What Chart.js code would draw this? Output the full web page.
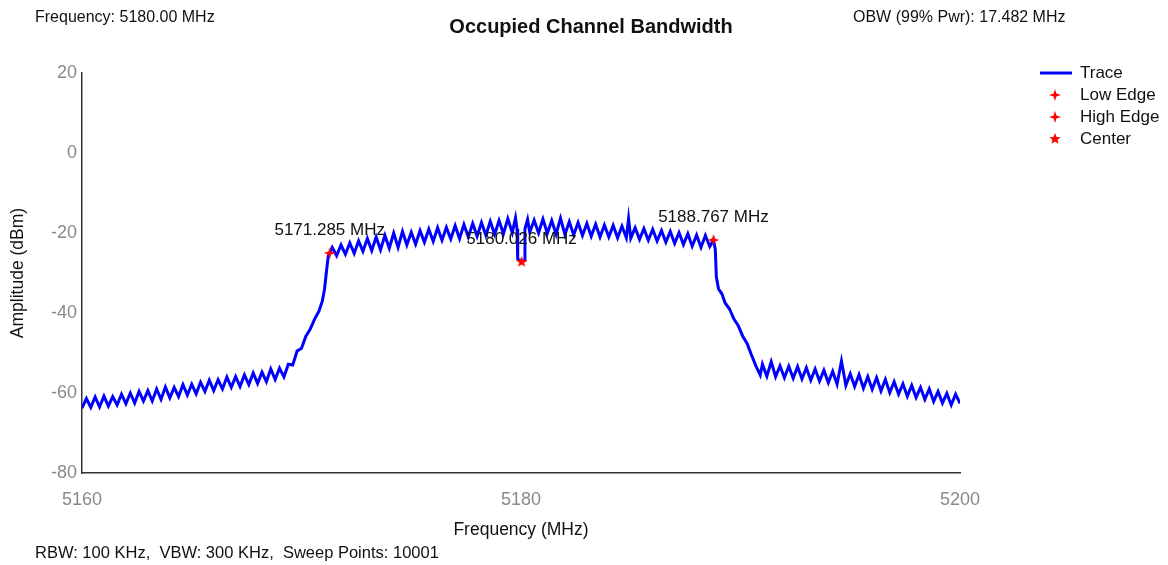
<!DOCTYPE html>
<html>
<head>
<meta charset="utf-8">
<script src="https://cdn.jsdelivr.net/npm/chart.js@4.4.1/dist/chart.umd.min.js"></script>
<style>
  body { margin: 0; background: #fff; }
  canvas { display: block; }
</style>
</head>
<body>
<canvas id="obw" width="1168" height="565"></canvas>
<script>
// spectrum trace, MHz / dBm
const traceFreq = [
  5160.0, 5160.2, 5160.4, 5160.6, 5160.8, 5161.0, 5161.2, 5161.4, 5161.6, 5161.8,
  5162.0, 5162.2, 5162.4, 5162.6, 5162.8, 5163.0, 5163.2, 5163.4, 5163.6, 5163.8,
  5164.0, 5164.2, 5164.4, 5164.6, 5164.8, 5165.0, 5165.2, 5165.4, 5165.6, 5165.8,
  5166.0, 5166.2, 5166.4, 5166.6, 5166.8, 5167.0, 5167.2, 5167.4, 5167.6, 5167.8,
  5168.0, 5168.2, 5168.4, 5168.6, 5168.8, 5169.0, 5169.2, 5169.4, 5169.6, 5169.8,
  5170.0, 5170.2, 5170.4, 5170.6, 5170.8, 5170.95, 5171.05, 5171.15, 5171.22, 5171.285,
  5171.4, 5171.6, 5171.8, 5172.0, 5172.2, 5172.4, 5172.6, 5172.8, 5173.0, 5173.2,
  5173.4, 5173.6, 5173.8, 5174.0, 5174.2, 5174.4, 5174.6, 5174.8, 5175.0, 5175.2,
  5175.4, 5175.6, 5175.8, 5176.0, 5176.2, 5176.4, 5176.6, 5176.8, 5177.0, 5177.2,
  5177.4, 5177.6, 5177.8, 5178.0, 5178.2, 5178.4, 5178.6, 5178.8, 5179.0, 5179.2,
  5179.4, 5179.6, 5179.75, 5179.82, 5179.85, 5180.026, 5180.15, 5180.18, 5180.3, 5180.4,
  5180.6, 5180.8, 5181.0, 5181.2, 5181.4, 5181.6, 5181.8, 5182.0, 5182.2, 5182.4,
  5182.6, 5182.8, 5183.0, 5183.2, 5183.4, 5183.6, 5183.8, 5184.0, 5184.2, 5184.4,
  5184.6, 5184.8, 5184.9, 5185.0, 5185.2, 5185.4, 5185.6, 5185.8, 5186.0, 5186.2,
  5186.4, 5186.6, 5186.8, 5187.0, 5187.2, 5187.4, 5187.6, 5187.8, 5188.0, 5188.2,
  5188.4, 5188.6, 5188.767, 5188.85, 5188.9, 5189.0, 5189.15, 5189.3, 5189.5, 5189.7,
  5189.9, 5190.1, 5190.3, 5190.5, 5190.7, 5190.9, 5191.0, 5191.2, 5191.4, 5191.6,
  5191.8, 5192.0, 5192.2, 5192.4, 5192.6, 5192.8, 5193.0, 5193.2, 5193.4, 5193.6,
  5193.8, 5194.0, 5194.2, 5194.4, 5194.6, 5194.8, 5195.0, 5195.2, 5195.4, 5195.6,
  5195.8, 5196.0, 5196.2, 5196.4, 5196.6, 5196.8, 5197.0, 5197.2, 5197.4, 5197.6,
  5197.8, 5198.0, 5198.2, 5198.4, 5198.6, 5198.8, 5199.0, 5199.2, 5199.4, 5199.6,
  5199.8, 5200.0
];
const traceAmp = [
  -63.8, -61.4, -63.6, -61.0, -63.5, -60.8, -63.3, -60.9, -63.0, -60.3,
  -62.7, -60.0, -62.5, -59.6, -62.0, -59.4, -62.0, -59.0, -61.6, -58.5,
  -61.2, -58.6, -60.9, -57.9, -60.5, -57.8, -60.2, -57.3, -59.6, -56.8,
  -59.4, -56.7, -59.0, -56.0, -58.6, -55.9, -58.4, -55.5, -57.9, -55.0,
  -57.6, -54.8, -57.2, -54.0, -56.6, -53.8, -56.0, -52.8, -53.0, -49.5,
  -48.8, -45.8, -44.0, -41.5, -39.5, -37.0, -34.0, -29.0, -25.8, -25.0,
  -23.6, -25.7, -23.0, -25.3, -22.5, -25.1, -22.0, -24.6, -21.4, -24.4,
  -21.0, -24.2, -20.6, -23.8, -20.0, -23.6, -19.6, -23.0, -19.8, -22.8,
  -19.4, -22.3, -19.0, -22.1, -18.7, -21.8, -18.6, -21.5, -18.2, -21.4,
  -17.9, -21.0, -17.6, -20.8, -17.4, -20.6, -17.1, -20.3, -16.9, -20.2,
  -16.4, -19.9, -16.2, -19.0, -26.5, -27.25, -26.8, -19.0, -16.6, -19.8,
  -16.8, -20.0, -16.5, -20.1, -16.9, -20.3, -16.3, -20.4, -17.2, -20.5,
  -17.4, -20.6, -17.6, -20.8, -17.8, -21.0, -18.0, -21.0, -18.1, -21.2,
  -18.3, -21.2, -16.4, -21.3, -18.7, -21.6, -18.9, -21.8, -19.1, -22.0,
  -19.4, -22.3, -19.6, -22.6, -19.9, -22.9, -20.2, -23.3, -20.5, -23.6,
  -20.6, -23.4, -21.75, -24.0, -31.0, -34.0, -35.2, -37.5, -39.0, -41.5,
  -43.2, -45.8, -47.6, -50.5, -53.2, -55.5, -52.8, -55.8, -52.2, -55.9,
  -53.2, -56.2, -53.3, -56.3, -53.4, -56.5, -53.7, -56.8, -54.0, -57.0,
  -54.3, -57.4, -54.6, -57.8, -52.0, -58.1, -55.2, -58.4, -55.4, -58.8,
  -55.9, -59.1, -56.2, -59.5, -56.6, -59.9, -57.2, -60.3, -57.7, -60.8,
  -58.1, -61.1, -58.6, -61.6, -59.0, -62.1, -59.6, -62.5, -60.1, -63.0,
  -60.3, -62.6
];

// markers [freq, amp]
const lowEdge = [5171.285, -25.0];
const highEdge = [5188.767, -21.75];
const centerPt = [5180.026, -27.25];

const xTicks = [5160, 5180, 5200];
const yTicks = [-80, -60, -40, -20, 0, 20];

const titleText = 'Occupied Channel Bandwidth';
const freqText = 'Frequency: 5180.00 MHz';
const obwText = 'OBW (99% Pwr): 17.482 MHz';
const footText = 'RBW: 100 KHz,  VBW: 300 KHz,  Sweep Points: 10001';

const FONT = '"Liberation Sans", Arial, sans-serif';

function makeStar(n, outer, inner) {
  const c = document.createElement('canvas');
  const s = Math.ceil(outer * 2) + 2;
  c.width = c.height = s;
  const g = c.getContext('2d');
  g.fillStyle = '#ff0000';
  g.beginPath();
  for (let k = 0; k < n * 2; k++) {
    const r = k % 2 ? inner : outer;
    const a = -Math.PI / 2 + k * Math.PI / n;
    g.lineTo(s / 2 + r * Math.cos(a), s / 2 + r * Math.sin(a));
  }
  g.closePath();
  g.fill();
  return c;
}
const edgeStar = makeStar(4, 6, 2);
const centerStar = makeStar(5, 6, 2.6);

const tracePts = traceFreq.map((f, i) => ({x: f, y: traceAmp[i]}));

const textPlugin = {
  id: 'texts',
  afterDraw(chart) {
    const ctx = chart.ctx;
    ctx.save();
    ctx.fillStyle = '#111';
    ctx.textBaseline = 'middle';
    ctx.textAlign = 'left';
    ctx.font = '16px ' + FONT;
    ctx.fillText(freqText, 35, 18);
    ctx.fillText(obwText, 853, 18);
    ctx.font = '16.5px ' + FONT;
    ctx.fillText(footText, 35, 553);
    ctx.textAlign = 'center';
    ctx.font = 'bold 20px ' + FONT;
    ctx.fillText(titleText, 591, 27);

    // marker labels
    ctx.font = '17px ' + FONT;
    for (let i = 1; i <= 3; i++) {
      const p = chart.getDatasetMeta(i).data[0];
      const f = chart.data.datasets[i].data[0].x;
      ctx.fillText(f.toFixed(3) + ' MHz', p.x, p.y - 23);
    }

    // legend
    ctx.textAlign = 'left';
    ctx.strokeStyle = '#0000ff';
    ctx.lineWidth = 3;
    ctx.beginPath();
    ctx.moveTo(1040, 73);
    ctx.lineTo(1072, 73);
    ctx.stroke();
    const items = [['Trace', null], ['Low Edge', edgeStar], ['High Edge', edgeStar], ['Center', centerStar]];
    items.forEach((it, k) => {
      const y = 73 + k * 22;
      if (it[1]) ctx.drawImage(it[1], 1055 - it[1].width / 2, y - it[1].height / 2);
      ctx.fillText(it[0], 1080, y);
    });
    ctx.restore();
  }
};

new Chart(document.getElementById('obw'), {
  type: 'line',
  data: {
    datasets: [
      {
        label: 'Trace',
        data: tracePts,
        borderColor: '#0000ff',
        borderWidth: 3,
        pointRadius: 0,
        tension: 0,
        order: 1
      },
      {
        label: 'Low Edge',
        data: [{x: lowEdge[0], y: lowEdge[1]}],
        showLine: false,
        pointStyle: edgeStar,
        order: 0
      },
      {
        label: 'High Edge',
        data: [{x: highEdge[0], y: highEdge[1]}],
        showLine: false,
        pointStyle: edgeStar,
        order: 0
      },
      {
        label: 'Center',
        data: [{x: centerPt[0], y: centerPt[1]}],
        showLine: false,
        pointStyle: centerStar,
        order: 0
      }
    ]
  },
  options: {
    responsive: false,
    animation: false,
    layout: { padding: { left: 0, top: 73, right: 208, bottom: 0 } },
    plugins: {
      legend: { display: false },
      tooltip: { enabled: false }
    },
    scales: {
      x: {
        type: 'linear',
        min: xTicks[0],
        max: xTicks[xTicks.length - 1],
        afterBuildTicks: s => { s.ticks = xTicks.map(v => ({value: v})); },
        afterFit: s => { s.height = 92; },
        grid: { display: true, drawOnChartArea: false, drawTicks: false },
        border: { color: '#333', width: 1.5 },
        ticks: { color: '#8a8a8a', font: { family: FONT, size: 18 }, padding: 16, maxRotation: 0,
                 callback: v => String(v) },
        title: { display: true, text: 'Frequency (MHz)', color: '#111', font: { family: FONT, size: 17.5 }, padding: { top: 0, bottom: 24 } }
      },
      y: {
        min: yTicks[0],
        max: yTicks[yTicks.length - 1],
        afterBuildTicks: s => { s.ticks = yTicks.map(v => ({value: v})); },
        afterFit: s => { s.width = 82; },
        grid: { display: true, drawOnChartArea: false, drawTicks: false },
        border: { color: '#333', width: 1.5 },
        ticks: { color: '#8a8a8a', font: { family: FONT, size: 18 }, padding: 5,
                 callback: v => String(v) },
        title: { display: true, text: 'Amplitude (dBm)', color: '#111', font: { family: FONT, size: 17.5 }, padding: { top: 7.5, bottom: 0 } }
      }
    }
  },
  plugins: [textPlugin]
});
</script>
</body>
</html>
